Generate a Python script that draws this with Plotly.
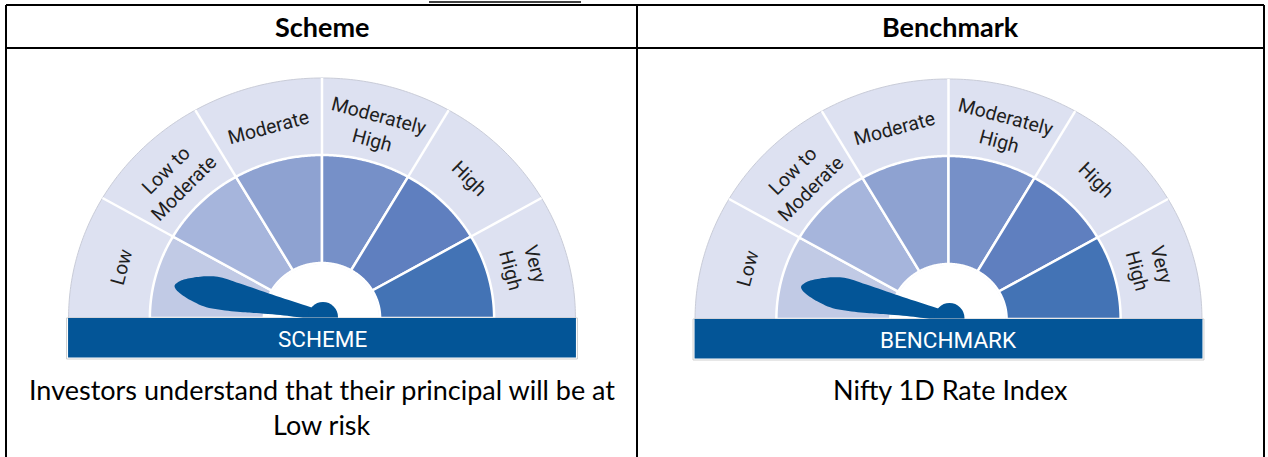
import numpy as np
import plotly.graph_objects as go

W, H = 1268, 457

# ---------------- data ----------------
column_titles = ["Scheme", "Benchmark"]
banner_labels = ["SCHEME", "BENCHMARK"]
risk_levels = ["Low", "Low to<br>Moderate", "Moderate", "Moderately<br>High", "High", "Very<br>High"]
needle_levels = [0.45, 0.45]          # position on the 0..6 risk scale (Low band = 0..1)
description_lines = [
    ["Investors understand that their principal will be at", "Low risk"],
    ["Nifty 1D Rate Index"],
]

# ---------------- style / layout ----------------
seg_colors = ["#c1cae5", "#a6b5dc", "#8ea2d1", "#7690c8", "#5f7fbf", "#4373b5"]
band_color = "#dde1f1"
navy = "#035597"
label_font = "Roboto"
table_font = "Lato"

COL_X = [6, 637, 1264]           # table vertical rules
ROW_Y = [5, 48]                  # table horizontal rules
G_CX = [322.0, 948.5]
G_CY = [318.0, 319.0]
R_OUT, R_MID, R_HOLE, R_PIV, R_LAB = 240.0, 163.0, 55.0, 15.0, 197.0
SX = 1.056                        # horizontal stretch of the gauge
BANNER_H = 39.5

fig = go.Figure()
shapes = []
annotations = []


def to_xy(cx, cy, r, deg):
    t = np.deg2rad(deg)
    return cx + SX * r * np.cos(t), cy - r * np.sin(t)


def path_from(points):
    return "M " + " L ".join(f"{x:.2f},{y:.2f}" for x, y in points) + " Z"


def wedge(cx, cy, r0, r1, a0, a1, n=80):
    angs = np.linspace(a0, a1, n)
    pts = [to_xy(cx, cy, r1, a) for a in angs]
    if r0 > 0:
        pts += [to_xy(cx, cy, r0, a) for a in angs[::-1]]
    else:
        pts += [(cx, cy)]
    return path_from(pts)


def catmull(points, n=8):
    pts = np.array(points, dtype=float)
    out = []
    for i in range(len(pts) - 1):
        p0 = pts[max(i - 1, 0)]
        p1 = pts[i]
        p2 = pts[i + 1]
        p3 = pts[min(i + 2, len(pts) - 1)]
        for t in np.linspace(0, 1, n, endpoint=False):
            t2, t3 = t * t, t * t * t
            out.append(0.5 * ((2 * p1) + (-p0 + p2) * t + (2 * p0 - 5 * p1 + 4 * p2 - p3) * t2
                              + (-p0 + 3 * p1 - 3 * p2 + p3) * t3))
    out.append(pts[-1])
    return out


# needle outline in local units (u along needle, v to the upper side)
NEEDLE_PROFILE = [(0, 6.5), (14.4, 7.8), (40, 10.3), (64.4, 12.9), (88, 15.5), (104.3, 16.9),
                  (116, 15.2), (126, 11.8), (135, 7.8), (140.6, 4.0), (144.2, -1.0),
                  (141.5, -5.2), (134, -9.2), (124, -12.6), (110, -15.3), (92, -14.3),
                  (75, -12), (62.3, -9.9), (40, -6.6), (21.4, -4.7), (5, -4.2), (0, -4.2)]

n_levels = len(risk_levels)
step = 180.0 / n_levels

for g in range(2):
    cx, cy = G_CX[g], G_CY[g]
    # outer light band
    shapes.append(dict(type="path", path=wedge(cx, cy, 0, R_OUT, 0, 180, 240),
                       fillcolor=band_color, line=dict(color="#c9ccd8", width=1), layer="above"))
    # inner coloured sectors
    for i in range(n_levels):
        a1 = 180 - i * step
        a0 = 180 - (i + 1) * step
        shapes.append(dict(type="path", path=wedge(cx, cy, R_HOLE, R_MID, a0, a1, 60),
                           fillcolor=seg_colors[i], line=dict(color="white", width=2.5), layer="above"))
    # separators in outer band
    for i in range(1, n_levels):
        a = 180 - i * step
        x0, y0 = to_xy(cx, cy, R_MID, a)
        x1, y1 = to_xy(cx, cy, R_OUT, a)
        shapes.append(dict(type="line", x0=x0, y0=y0, x1=x1, y1=y1,
                           line=dict(color="white", width=2.5), layer="above"))
    # white hub
    shapes.append(dict(type="path", path=wedge(cx, cy, 0, R_HOLE - 1, 0, 180, 120),
                       fillcolor="white", line=dict(width=0), layer="above"))
    # needle
    th = np.deg2rad(180 - needle_levels[g] * step)
    d = np.array([np.cos(th), np.sin(th)])
    nrm = np.array([np.sin(th), -np.cos(th)])
    smooth = catmull(NEEDLE_PROFILE, 6)
    pts = []
    for u, v in smooth:
        m = u * d + v * nrm
        pts.append((cx + 1 + SX * m[0], cy - m[1]))
    shapes.append(dict(type="path", path=path_from(pts), fillcolor=navy,
                       line=dict(width=0), layer="above"))
    shapes.append(dict(type="circle", x0=cx + 1 - R_PIV, x1=cx + 1 + R_PIV,
                       y0=cy - R_PIV - 1, y1=cy + R_PIV - 1,
                       fillcolor=navy, line=dict(width=0), layer="above"))
    # banner
    bx0, bx1 = cx - SX * R_OUT - 0.5, cx + SX * R_OUT + 0.5
    shapes.append(dict(type="rect", x0=bx0 - 1.5, x1=bx1 + 1.5, y0=cy, y1=cy + BANNER_H + 1.5,
                       fillcolor="white", line=dict(color="#cfcfcf", width=1), layer="above"))
    shapes.append(dict(type="rect", x0=bx0, x1=bx1, y0=cy, y1=cy + BANNER_H,
                       fillcolor=navy, line=dict(width=0), layer="above"))
    annotations.append(dict(x=cx, y=cy + BANNER_H / 2 + 1, text=banner_labels[g], showarrow=False,
                            font=dict(family=label_font, size=22.5, color="white"),
                            xanchor="center", yanchor="middle"))
    # risk labels
    for i, lab in enumerate(risk_levels):
        a = 180 - (i + 0.5) * step
        lx, ly = to_xy(cx, cy, R_LAB, a)
        annotations.append(dict(x=lx, y=ly, text=lab, showarrow=False, textangle=90 - a,
                                font=dict(family=label_font, size=19.5, color="#1f1f1f"),
                                xanchor="center", yanchor="middle", align="center"))
    # column header and description
    colc = (COL_X[g] + COL_X[g + 1]) / 2
    annotations.append(dict(x=colc, y=26.5, text=f"<b>{column_titles[g]}</b>", showarrow=False,
                            font=dict(family=table_font, size=27, color="black"),
                            xanchor="center", yanchor="middle"))
    for k, line in enumerate(description_lines[g]):
        annotations.append(dict(x=colc, y=389 + 35 * k, text=line, showarrow=False,
                                font=dict(family=table_font, size=27, color="black"),
                                xanchor="center", yanchor="middle"))

# table rules
for xv in COL_X:
    shapes.append(dict(type="line", x0=xv, x1=xv, y0=ROW_Y[0], y1=H + 5,
                       line=dict(color="black", width=2), layer="above"))
for yv in ROW_Y:
    shapes.append(dict(type="line", x0=COL_X[0], x1=COL_X[-1], y0=yv, y1=yv,
                       line=dict(color="black", width=2), layer="above"))
# clipped heading above the table (only its underline is visible)
shapes.append(dict(type="line", x0=429, x1=581, y0=2, y1=2, line=dict(color="black", width=1.5)))

fig.update_layout(
    width=W, height=H, margin=dict(l=0, r=0, t=0, b=0),
    paper_bgcolor="white", plot_bgcolor="white",
    xaxis=dict(range=[0, W], visible=False, fixedrange=True),
    yaxis=dict(range=[H, 0], visible=False, fixedrange=True),
    shapes=shapes, annotations=annotations, showlegend=False,
)
fig.write_html(
    "out.html",
    config={"displayModeBar": False},
    post_script="document.body.style.margin='0';document.body.style.overflow='hidden';",
)
